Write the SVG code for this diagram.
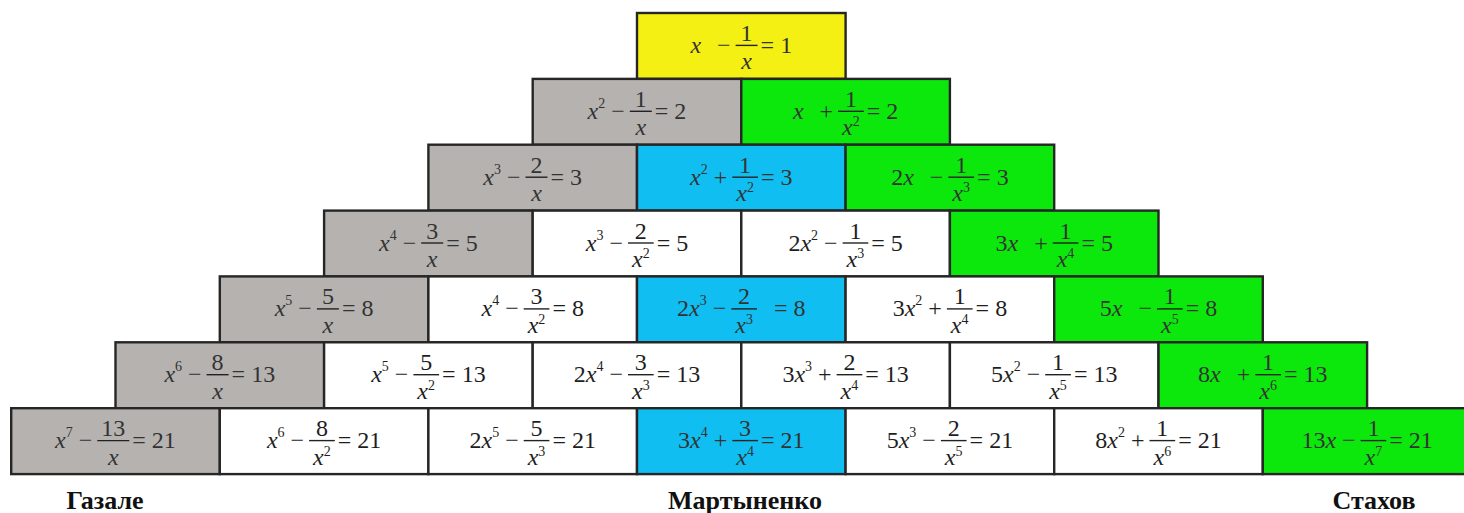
<svg xmlns="http://www.w3.org/2000/svg" width="1464" height="513" viewBox="0 0 1464 513">
<style>
.c{stroke:#262626;stroke-width:2.4}
.y{fill:#F4F014}.g{fill:#B5B2B0}.b{fill:#10BEF1}.gr{fill:#0CE80C}.w{fill:#FFFFFF}
text{font-family:"Liberation Serif","Times New Roman",serif;font-size:24px;fill:#1e1e1e}
.k text{fill:#333333}
.i{font-style:italic}
.s{font-size:14px}
.m{text-anchor:middle}.e{text-anchor:end}
.bar{stroke:#222;stroke-width:1.4}
.lbl{font-weight:bold;font-size:26px;text-anchor:middle;fill:#111}
</style>
<rect width="1464" height="513" fill="#fff"/>

<!-- Row 0 -->
<g id="r0c0" class="k"><rect class="c y" x="637" y="13" width="208.6" height="65.9"/>
<text class="e" x="730.6" y="52.9"><tspan class="i">x</tspan><tspan dx="10"> −</tspan></text>
<line class="bar" x1="735.6" y1="45.4" x2="757.6" y2="45.4"/>
<text class="m" x="746.6" y="40.9">1</text><text class="m i" x="746.6" y="69.4">x</text>
<text x="760.6" y="52.9">= 1</text></g>

<!-- Row 1 -->
<g id="r1c0" class="k"><rect class="c g" x="532.7" y="78.9" width="208.6" height="65.9"/>
<text class="e" x="624.8" y="118.8"><tspan class="i">x</tspan><tspan class="s" dy="-11">2</tspan><tspan dy="11"> −</tspan></text>
<line class="bar" x1="629.8" y1="111.3" x2="651.8" y2="111.3"/>
<text class="m" x="640.8" y="106.8">1</text><text class="m i" x="640.8" y="135.3">x</text>
<text x="654.8" y="118.8">= 2</text></g>

<g id="r1c1" class="k"><rect class="c gr" x="741.3" y="78.9" width="208.6" height="65.9"/>
<text class="e" x="833.1" y="118.8"><tspan class="i">x</tspan><tspan dx="10"> +</tspan></text>
<line class="bar" x1="838.1" y1="111.3" x2="863.8" y2="111.3"/>
<text class="m" x="850.9" y="106.8">1</text><text class="m" x="850.9" y="135.3"><tspan class="i">x</tspan><tspan class="s" dy="-9">2</tspan></text>
<text x="866.8" y="118.8">= 2</text></g>

<!-- Row 2 -->
<g id="r2c0" class="k"><rect class="c g" x="428.4" y="144.7" width="208.6" height="65.9"/>
<text class="e" x="520.5" y="184.7"><tspan class="i">x</tspan><tspan class="s" dy="-11">3</tspan><tspan dy="11"> −</tspan></text>
<line class="bar" x1="525.5" y1="177.2" x2="547.5" y2="177.2"/>
<text class="m" x="536.5" y="172.7">2</text><text class="m i" x="536.5" y="201.2">x</text>
<text x="550.5" y="184.7">= 3</text></g>

<g id="r2c1" class="k"><rect class="c b" x="637" y="144.7" width="208.6" height="65.9"/>
<text class="e" x="727.3" y="184.7"><tspan class="i">x</tspan><tspan class="s" dy="-11">2</tspan><tspan dy="11"> +</tspan></text>
<line class="bar" x1="732.3" y1="177.2" x2="758" y2="177.2"/>
<text class="m" x="745.1" y="172.7">1</text><text class="m" x="745.1" y="201.2"><tspan class="i">x</tspan><tspan class="s" dy="-9">2</tspan></text>
<text x="761" y="184.7">= 3</text></g>

<g id="r2c2" class="k"><rect class="c gr" x="845.6" y="144.7" width="208.6" height="65.9"/>
<text class="e" x="943.4" y="184.7">2<tspan class="i">x</tspan><tspan dx="10"> −</tspan></text>
<line class="bar" x1="948.4" y1="177.2" x2="974.1" y2="177.2"/>
<text class="m" x="961.2" y="172.7">1</text><text class="m" x="961.2" y="201.2"><tspan class="i">x</tspan><tspan class="s" dy="-9">3</tspan></text>
<text x="977.1" y="184.7">= 3</text></g>

<!-- Row 3 -->
<g id="r3c0" class="k"><rect class="c g" x="324.1" y="210.6" width="208.6" height="65.9"/>
<text class="e" x="416.2" y="250.5"><tspan class="i">x</tspan><tspan class="s" dy="-11">4</tspan><tspan dy="11"> −</tspan></text>
<line class="bar" x1="421.2" y1="243" x2="443.2" y2="243"/>
<text class="m" x="432.2" y="238.5">3</text><text class="m i" x="432.2" y="267">x</text>
<text x="446.2" y="250.5">= 5</text></g>

<g id="r3c1"><rect class="c w" x="532.7" y="210.6" width="208.6" height="65.9"/>
<text class="e" x="623" y="250.5"><tspan class="i">x</tspan><tspan class="s" dy="-11">3</tspan><tspan dy="11"> −</tspan></text>
<line class="bar" x1="628" y1="243" x2="653.7" y2="243"/>
<text class="m" x="640.8" y="238.5">2</text><text class="m" x="640.8" y="267"><tspan class="i">x</tspan><tspan class="s" dy="-9">2</tspan></text>
<text x="656.7" y="250.5">= 5</text></g>

<g id="r3c2"><rect class="c w" x="741.3" y="210.6" width="208.6" height="65.9"/>
<text class="e" x="837.6" y="250.5">2<tspan class="i">x</tspan><tspan class="s" dy="-11">2</tspan><tspan dy="11"> −</tspan></text>
<line class="bar" x1="842.6" y1="243" x2="868.3" y2="243"/>
<text class="m" x="855.4" y="238.5">1</text><text class="m" x="855.4" y="267"><tspan class="i">x</tspan><tspan class="s" dy="-9">3</tspan></text>
<text x="871.3" y="250.5">= 5</text></g>

<g id="r3c3" class="k"><rect class="c gr" x="949.9" y="210.6" width="208.6" height="65.9"/>
<text class="e" x="1047.7" y="250.5">3<tspan class="i">x</tspan><tspan dx="10"> +</tspan></text>
<line class="bar" x1="1052.7" y1="243" x2="1078.4" y2="243"/>
<text class="m" x="1065.5" y="238.5">1</text><text class="m" x="1065.5" y="267"><tspan class="i">x</tspan><tspan class="s" dy="-9">4</tspan></text>
<text x="1081.4" y="250.5">= 5</text></g>

<!-- Row 4 -->
<g id="r4c0" class="k"><rect class="c g" x="219.8" y="276.4" width="208.6" height="65.9"/>
<text class="e" x="311.9" y="316.4"><tspan class="i">x</tspan><tspan class="s" dy="-11">5</tspan><tspan dy="11"> −</tspan></text>
<line class="bar" x1="316.9" y1="308.9" x2="338.9" y2="308.9"/>
<text class="m" x="327.9" y="304.4">5</text><text class="m i" x="327.9" y="332.9">x</text>
<text x="341.9" y="316.4">= 8</text></g>

<g id="r4c1"><rect class="c w" x="428.4" y="276.4" width="208.6" height="65.9"/>
<text class="e" x="518.7" y="316.4"><tspan class="i">x</tspan><tspan class="s" dy="-11">4</tspan><tspan dy="11"> −</tspan></text>
<line class="bar" x1="523.7" y1="308.9" x2="549.4" y2="308.9"/>
<text class="m" x="536.5" y="304.4">3</text><text class="m" x="536.5" y="332.9"><tspan class="i">x</tspan><tspan class="s" dy="-9">2</tspan></text>
<text x="552.4" y="316.4">= 8</text></g>

<g id="r4c2" class="k"><rect class="c b" x="637" y="276.4" width="208.6" height="65.9"/>
<text class="e" x="726.3" y="316.4">2<tspan class="i">x</tspan><tspan class="s" dy="-11">3</tspan><tspan dy="11"> −</tspan></text>
<line class="bar" x1="731.3" y1="308.9" x2="757" y2="308.9"/>
<text class="m" x="744.1" y="304.4">2</text><text class="m" x="744.1" y="332.9"><tspan class="i">x</tspan><tspan class="s" dy="-9">3</tspan></text>
<text x="774" y="316.4">= 8</text></g>

<g id="r4c3"><rect class="c w" x="845.6" y="276.4" width="208.6" height="65.9"/>
<text class="e" x="941.9" y="316.4">3<tspan class="i">x</tspan><tspan class="s" dy="-11">2</tspan><tspan dy="11"> +</tspan></text>
<line class="bar" x1="946.9" y1="308.9" x2="972.6" y2="308.9"/>
<text class="m" x="959.7" y="304.4">1</text><text class="m" x="959.7" y="332.9"><tspan class="i">x</tspan><tspan class="s" dy="-9">4</tspan></text>
<text x="975.6" y="316.4">= 8</text></g>

<g id="r4c4" class="k"><rect class="c gr" x="1054.2" y="276.4" width="208.6" height="65.9"/>
<text class="e" x="1152" y="316.4">5<tspan class="i">x</tspan><tspan dx="10"> −</tspan></text>
<line class="bar" x1="1157" y1="308.9" x2="1182.7" y2="308.9"/>
<text class="m" x="1169.8" y="304.4">1</text><text class="m" x="1169.8" y="332.9"><tspan class="i">x</tspan><tspan class="s" dy="-9">5</tspan></text>
<text x="1185.7" y="316.4">= 8</text></g>

<!-- Row 5 -->
<g id="r5c0" class="k"><rect class="c g" x="115.5" y="342.3" width="208.6" height="65.9"/>
<text class="e" x="201.6" y="382.2"><tspan class="i">x</tspan><tspan class="s" dy="-11">6</tspan><tspan dy="11"> −</tspan></text>
<line class="bar" x1="206.6" y1="374.7" x2="228.6" y2="374.7"/>
<text class="m" x="217.6" y="370.2">8</text><text class="m i" x="217.6" y="398.7">x</text>
<text x="231.6" y="382.2">= 13</text></g>

<g id="r5c1"><rect class="c w" x="324.1" y="342.3" width="208.6" height="65.9"/>
<text class="e" x="408.4" y="382.2"><tspan class="i">x</tspan><tspan class="s" dy="-11">5</tspan><tspan dy="11"> −</tspan></text>
<line class="bar" x1="413.4" y1="374.7" x2="439.1" y2="374.7"/>
<text class="m" x="426.2" y="370.2">5</text><text class="m" x="426.2" y="398.7"><tspan class="i">x</tspan><tspan class="s" dy="-9">2</tspan></text>
<text x="442.1" y="382.2">= 13</text></g>

<g id="r5c2"><rect class="c w" x="532.7" y="342.3" width="208.6" height="65.9"/>
<text class="e" x="623" y="382.2">2<tspan class="i">x</tspan><tspan class="s" dy="-11">4</tspan><tspan dy="11"> −</tspan></text>
<line class="bar" x1="628" y1="374.7" x2="653.7" y2="374.7"/>
<text class="m" x="640.8" y="370.2">3</text><text class="m" x="640.8" y="398.7"><tspan class="i">x</tspan><tspan class="s" dy="-9">3</tspan></text>
<text x="656.7" y="382.2">= 13</text></g>

<g id="r5c3"><rect class="c w" x="741.3" y="342.3" width="208.6" height="65.9"/>
<text class="e" x="831.6" y="382.2">3<tspan class="i">x</tspan><tspan class="s" dy="-11">3</tspan><tspan dy="11"> +</tspan></text>
<line class="bar" x1="836.6" y1="374.7" x2="862.3" y2="374.7"/>
<text class="m" x="849.4" y="370.2">2</text><text class="m" x="849.4" y="398.7"><tspan class="i">x</tspan><tspan class="s" dy="-9">4</tspan></text>
<text x="865.3" y="382.2">= 13</text></g>

<g id="r5c4"><rect class="c w" x="949.9" y="342.3" width="208.6" height="65.9"/>
<text class="e" x="1040.2" y="382.2">5<tspan class="i">x</tspan><tspan class="s" dy="-11">2</tspan><tspan dy="11"> −</tspan></text>
<line class="bar" x1="1045.2" y1="374.7" x2="1070.9" y2="374.7"/>
<text class="m" x="1058" y="370.2">1</text><text class="m" x="1058" y="398.7"><tspan class="i">x</tspan><tspan class="s" dy="-9">5</tspan></text>
<text x="1073.9" y="382.2">= 13</text></g>

<g id="r5c5" class="k"><rect class="c gr" x="1158.5" y="342.3" width="208.6" height="65.9"/>
<text class="e" x="1250.3" y="382.2">8<tspan class="i">x</tspan><tspan dx="10"> +</tspan></text>
<line class="bar" x1="1255.3" y1="374.7" x2="1281" y2="374.7"/>
<text class="m" x="1268.1" y="370.2">1</text><text class="m" x="1268.1" y="398.7"><tspan class="i">x</tspan><tspan class="s" dy="-9">6</tspan></text>
<text x="1284" y="382.2">= 13</text></g>

<!-- Row 6 -->
<g id="r6c0" class="k"><rect class="c g" x="11.2" y="408.2" width="208.6" height="65.9"/>
<text class="e" x="92.3" y="448.1"><tspan class="i">x</tspan><tspan class="s" dy="-11">7</tspan><tspan dy="11"> −</tspan></text>
<line class="bar" x1="97.3" y1="440.6" x2="129.3" y2="440.6"/>
<text class="m" x="113.3" y="436.1">13</text><text class="m i" x="113.3" y="464.6">x</text>
<text x="132.3" y="448.1">= 21</text></g>

<g id="r6c1"><rect class="c w" x="219.8" y="408.2" width="208.6" height="65.9"/>
<text class="e" x="304.1" y="448.1"><tspan class="i">x</tspan><tspan class="s" dy="-11">6</tspan><tspan dy="11"> −</tspan></text>
<line class="bar" x1="309.1" y1="440.6" x2="334.8" y2="440.6"/>
<text class="m" x="321.9" y="436.1">8</text><text class="m" x="321.9" y="464.6"><tspan class="i">x</tspan><tspan class="s" dy="-9">2</tspan></text>
<text x="337.8" y="448.1">= 21</text></g>

<g id="r6c2"><rect class="c w" x="428.4" y="408.2" width="208.6" height="65.9"/>
<text class="e" x="518.7" y="448.1">2<tspan class="i">x</tspan><tspan class="s" dy="-11">5</tspan><tspan dy="11"> −</tspan></text>
<line class="bar" x1="523.7" y1="440.6" x2="549.4" y2="440.6"/>
<text class="m" x="536.5" y="436.1">5</text><text class="m" x="536.5" y="464.6"><tspan class="i">x</tspan><tspan class="s" dy="-9">3</tspan></text>
<text x="552.4" y="448.1">= 21</text></g>

<g id="r6c3" class="k"><rect class="c b" x="637" y="408.2" width="208.6" height="65.9"/>
<text class="e" x="727.3" y="448.1">3<tspan class="i">x</tspan><tspan class="s" dy="-11">4</tspan><tspan dy="11"> +</tspan></text>
<line class="bar" x1="732.3" y1="440.6" x2="758" y2="440.6"/>
<text class="m" x="745.1" y="436.1">3</text><text class="m" x="745.1" y="464.6"><tspan class="i">x</tspan><tspan class="s" dy="-9">4</tspan></text>
<text x="761" y="448.1">= 21</text></g>

<g id="r6c4"><rect class="c w" x="845.6" y="408.2" width="208.6" height="65.9"/>
<text class="e" x="935.9" y="448.1">5<tspan class="i">x</tspan><tspan class="s" dy="-11">3</tspan><tspan dy="11"> −</tspan></text>
<line class="bar" x1="940.9" y1="440.6" x2="966.6" y2="440.6"/>
<text class="m" x="953.7" y="436.1">2</text><text class="m" x="953.7" y="464.6"><tspan class="i">x</tspan><tspan class="s" dy="-9">5</tspan></text>
<text x="969.6" y="448.1">= 21</text></g>

<g id="r6c5"><rect class="c w" x="1054.2" y="408.2" width="208.6" height="65.9"/>
<text class="e" x="1144.5" y="448.1">8<tspan class="i">x</tspan><tspan class="s" dy="-11">2</tspan><tspan dy="11"> +</tspan></text>
<line class="bar" x1="1149.5" y1="440.6" x2="1175.2" y2="440.6"/>
<text class="m" x="1162.3" y="436.1">1</text><text class="m" x="1162.3" y="464.6"><tspan class="i">x</tspan><tspan class="s" dy="-9">6</tspan></text>
<text x="1178.2" y="448.1">= 21</text></g>

<g id="r6c6" class="k"><rect class="c gr" x="1262.8" y="408.2" width="208.6" height="65.9"/>
<text class="e" x="1355.6" y="448.1">13<tspan class="i">x</tspan><tspan> −</tspan></text>
<line class="bar" x1="1360.6" y1="440.6" x2="1386.3" y2="440.6"/>
<text class="m" x="1373.4" y="436.1">1</text><text class="m" x="1373.4" y="464.6"><tspan class="i">x</tspan><tspan class="s" dy="-9">7</tspan></text>
<text x="1389.3" y="448.1">= 21</text></g>

<!-- Labels -->
<g id="labels">
<text class="lbl" x="105" y="509">Газале</text>
<text class="lbl" x="745" y="509">Мартыненко</text>
<text class="lbl" x="1374" y="509">Стахов</text>
</g>
</svg>
